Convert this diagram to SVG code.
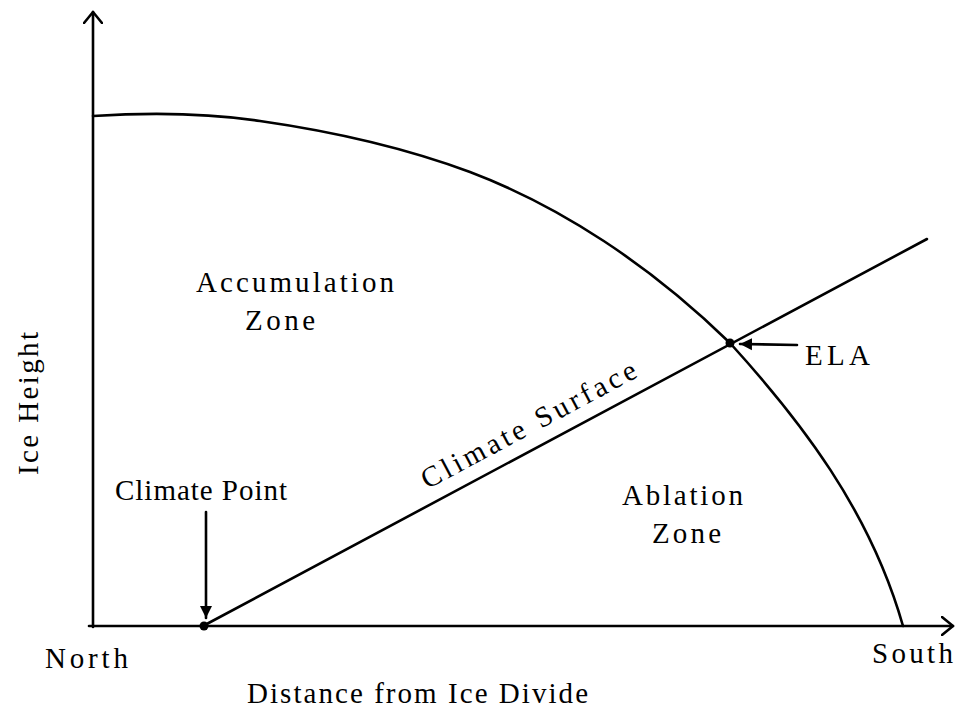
<svg xmlns="http://www.w3.org/2000/svg" width="958" height="710" viewBox="0 0 958 710">
<style>
.ln{fill:none;stroke:#000;stroke-width:2.6;stroke-linecap:round;stroke-linejoin:round}
.t{font-family:"Liberation Serif","DejaVu Serif",serif;font-size:29px;fill:#000}
</style>
<defs>
<marker id="open" markerWidth="14" markerHeight="20" refX="12" refY="10" orient="auto" markerUnits="userSpaceOnUse">
<path d="M1,1 L12,10 L1,19" fill="none" stroke="#000" stroke-width="2.6" stroke-linecap="round" stroke-linejoin="round"/>
</marker>
<marker id="solid" markerWidth="14" markerHeight="14" refX="12" refY="7" orient="auto" markerUnits="userSpaceOnUse">
<path d="M0,1 L12,7 L0,13 Z" fill="#000"/>
</marker>
</defs>
<rect width="958" height="710" fill="#fff"/>
<g id="connectors">
<line class="ln" x1="93" y1="627" x2="93" y2="12" marker-end="url(#open)"/>
<line class="ln" x1="89" y1="626" x2="953" y2="626" marker-end="url(#open)"/>
<path class="ln" d="M93,116 C140,113 200,112 260,121 C330,131 400,146 470,172 C560,206 650,265 730,343 C800,420 870,510 903,626"/>
<line class="ln" x1="203" y1="626" x2="927" y2="239"/>
<line class="ln" x1="206" y1="512" x2="206" y2="618" marker-end="url(#solid)"/>
<line class="ln" x1="797" y1="345" x2="740" y2="344" marker-end="url(#solid)"/>
</g>
<g id="climate-point">
<circle cx="204" cy="626" r="4.5" fill="#000"/>
<text class="t" x="115" y="500" textLength="172">Climate Point</text>
</g>
<g id="ela">
<circle cx="730" cy="343" r="4.5" fill="#000"/>
<text class="t" x="805" y="365" textLength="65">ELA</text>
</g>
<g id="accumulation-zone">
<text class="t" x="196" y="292" textLength="198">Accumulation</text>
<text class="t" x="245" y="330" textLength="70">Zone</text>
</g>
<g id="ablation-zone">
<text class="t" x="622" y="505" textLength="121">Ablation</text>
<text class="t" x="652" y="543" textLength="69">Zone</text>
</g>
<g id="climate-surface">
<text class="t" x="533" y="433" text-anchor="middle" textLength="240" transform="rotate(-28.1 533 433)">Climate Surface</text>
</g>
<g id="labels">
<text class="t" x="45" y="668" textLength="83">North</text>
<text class="t" x="872" y="663" textLength="81">South</text>
<text class="t" x="247" y="703" textLength="341">Distance from Ice Divide</text>
<text class="t" x="38" y="475" textLength="143" transform="rotate(-90 38 475)">Ice Height</text>
</g>
</svg>
